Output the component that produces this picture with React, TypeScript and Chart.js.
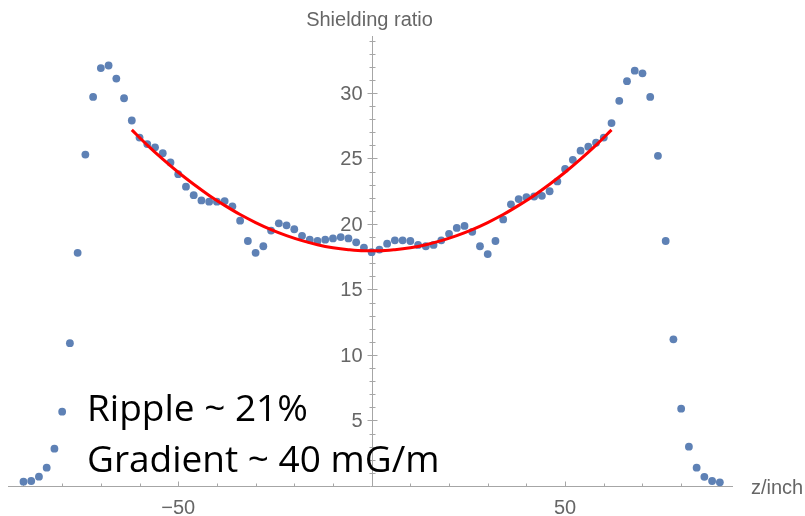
import React, { useEffect, useRef } from "react";
import { Chart, registerables } from "chart.js";

Chart.register(...registerables);

// ---- data ----
const zValues = [
  -90, -88, -86, -84, -82, -80, -78, -76, -74, -72, -70, -68, -66, -64, -62, -60,
  -58, -56, -54, -52, -50, -48, -46, -44, -42, -40, -38, -36, -34, -32, -30, -28,
  -26, -24, -22, -20, -18, -16, -14, -12, -10, -8, -6, -4, -2, 0,
  2, 4, 6, 8, 10, 12, 14, 16, 18, 20, 22, 24, 26, 28, 30, 32, 34, 36, 38, 40,
  42, 44, 46, 48, 50, 52, 54, 56, 58, 60, 62, 64, 66, 68, 70, 72, 74, 76, 78, 80,
  82, 84, 86, 88, 90,
];
const ratioValues = [
  0.33, 0.38, 0.71, 1.4, 2.85, 5.67, 10.9, 17.8, 25.3, 29.7, 31.9, 32.1, 31.1, 29.6, 27.9, 26.6,
  26.1, 25.85, 25.4, 24.7, 23.8, 22.85, 22.2, 21.8, 21.7, 21.7, 21.75, 21.35, 20.25, 18.7, 17.8, 18.3,
  19.5, 20.05, 19.9, 19.6, 19.1, 18.8, 18.7, 18.8, 18.9, 19.0, 18.9, 18.6, 18.2, 17.85,
  18.05, 18.5, 18.75, 18.75, 18.7, 18.4, 18.3, 18.4, 18.75, 19.25, 19.7, 19.85, 19.4, 18.3, 17.7, 18.7, 20.35, 21.5, 21.9, 22.05,
  22.1, 22.15, 22.5, 23.25, 24.2, 24.9, 25.6, 25.9, 26.2, 26.6, 27.7, 29.4, 30.9, 31.7, 31.5, 29.7, 25.2, 18.7, 11.2, 5.9,
  3.0, 1.4, 0.7, 0.38, 0.28,
];

// fitted curve (red)
const fitZ = [
  -62, -58, -54, -50, -46, -42, -38, -34, -30, -26, -22, -18, -14, -10, -6, -2,
  2, 6, 10, 14, 18, 22, 26, 30, 34, 38, 42, 46, 50, 54, 58, 62,
];
const fitRatio = [
  27.18, 26.02, 24.95, 23.95, 23.03, 22.18, 21.42, 20.72, 20.11, 19.57, 19.11, 18.73, 18.42, 18.19, 18.04, 17.96,
  17.96, 18.04, 18.19, 18.42, 18.73, 19.11, 19.57, 20.11, 20.72, 21.42, 22.18, 23.03, 23.95, 24.95, 26.02, 27.18,
];

const xTickValues = [-50, 50];
const xTickLabels = ["\u221250", "50"];
const yTickValues = [5, 10, 15, 20, 25, 30];
const yTickLabels = ["5", "10", "15", "20", "25", "30"];
const yAxisTitle = "Shielding ratio";
const xAxisTitle = "z/inch";
const noteLines = ["Ripple ~ 21%", "Gradient ~ 40 mG/m"];

const AXIS_FONT = '20px "Liberation Sans", Arial, sans-serif';
const AXIS_TEXT = "#666666";
const AXIS_LINE = "#a6a6a6";

const axesPlugin = {
  id: "mmaAxes",
  beforeDatasetsDraw(chart: any) {
    const { ctx, chartArea, scales } = chart;
    const xs = scales.x;
    const ys = scales.y;
    const x0 = Math.round(xs.getPixelForValue(0)) + 0.5;
    const y0 = Math.round(ys.getPixelForValue(0)) + 0.5;
    ctx.save();
    ctx.strokeStyle = AXIS_LINE;
    ctx.lineWidth = 1;
    ctx.beginPath();
    ctx.moveTo(chartArea.left, y0);
    ctx.lineTo(chartArea.right, y0);
    ctx.moveTo(x0, y0);
    ctx.lineTo(x0, chartArea.top);
    // x ticks (every 10, major every 50)
    for (let v = -90; v <= 90; v += 10) {
      if (v === 0) continue;
      const px = Math.round(xs.getPixelForValue(v)) + 0.5;
      const len = v % 50 === 0 ? 5 : 3;
      ctx.moveTo(px, y0);
      ctx.lineTo(px, y0 - len);
    }
    // y ticks (every 1, major every 5)
    for (let v = 1; v <= 34; v += 1) {
      const py = Math.round(ys.getPixelForValue(v)) + 0.5;
      const len = v % 5 === 0 ? 5 : 3;
      ctx.moveTo(x0 - len, py);
      ctx.lineTo(x0 + len, py);
    }
    ctx.stroke();

    ctx.fillStyle = AXIS_TEXT;
    ctx.font = AXIS_FONT;
    ctx.textAlign = "right";
    ctx.textBaseline = "middle";
    yTickValues.forEach((v, i) => {
      ctx.fillText(yTickLabels[i], x0 - 10, ys.getPixelForValue(v) + 1);
    });
    ctx.textAlign = "center";
    ctx.textBaseline = "alphabetic";
    xTickValues.forEach((v, i) => {
      ctx.fillText(xTickLabels[i], xs.getPixelForValue(v), y0 + 27);
    });
    ctx.textAlign = "center";
    ctx.fillText(yAxisTitle, x0 - 3, 26);
    ctx.textAlign = "left";
    ctx.fillText(xAxisTitle, 751, y0 + 7);
    ctx.restore();
  },
  afterDraw(chart: any) {
    const { ctx } = chart;
    ctx.save();
    ctx.fillStyle = "#000000";
    ctx.font = '37px "Open Sans", Lato, sans-serif';
    ctx.textAlign = "left";
    ctx.textBaseline = "alphabetic";
    ctx.fillText(noteLines[0], 87, 421);
    ctx.fillText(noteLines[1], 87, 472);
    ctx.restore();
  },
};

export default function App() {
  const canvasRef = useRef<HTMLCanvasElement | null>(null);

  useEffect(() => {
    const canvas = canvasRef.current;
    if (!canvas) return;
    const chart = new Chart(canvas, {
      type: "scatter",
      data: {
        datasets: [
          {
            label: "fit",
            data: fitZ.map((z, i) => ({ x: z, y: fitRatio[i] })),
            showLine: true,
            borderColor: "#ff0000",
            borderWidth: 3,
            pointRadius: 0,
            cubicInterpolationMode: "monotone",
            fill: false,
            order: 0,
            clip: false,
          } as any,
          {
            label: "data",
            data: zValues.map((z, i) => ({ x: z, y: ratioValues[i] })),
            backgroundColor: "#5e81b5",
            borderColor: "#5e81b5",
            borderWidth: 0,
            pointRadius: 3.9,
            order: 1,
            clip: false,
          } as any,
        ],
      },
      options: {
        animation: false,
        responsive: false,
        devicePixelRatio: 1,
        layout: { padding: { left: 8, right: 72, top: 36, bottom: 30 } },
        plugins: { legend: { display: false }, tooltip: { enabled: false } },
        scales: {
          x: { type: "linear", min: -94, max: 93.4, display: false },
          y: { type: "linear", min: 0, max: 34.35, display: false },
        },
      },
      plugins: [axesPlugin],
    });
    return () => chart.destroy();
  }, []);

  return (
    <div style={{ position: "absolute", left: 0, top: 0, width: 805, height: 516, background: "#ffffff" }}>
      <canvas ref={canvasRef} width={805} height={516} />
    </div>
  );
}
